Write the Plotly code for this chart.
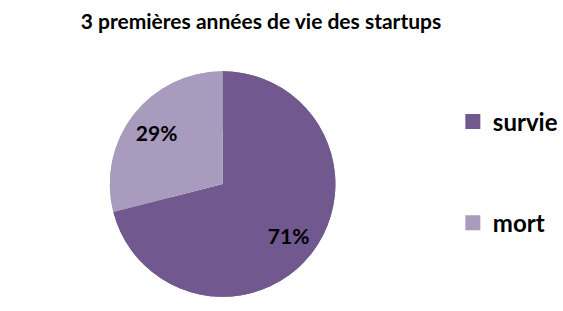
import plotly.graph_objects as go

title = "3 premières années de vie des startups"
labels = ["survie", "mort"]
values = [71, 29]
colors = ["#71598F", "#A89BBE"]

FONT = "Lato"
DOMAIN = dict(x=[111/563, 339/563], y=[13/311, 241/311])

fig = go.Figure()
# full disc (no text)
fig.add_trace(go.Pie(
    labels=labels, values=values, sort=False, direction="clockwise", rotation=0,
    marker=dict(colors=colors, line=dict(width=0)),
    textinfo="none", domain=DOMAIN, showlegend=False, hoverinfo="label+percent",
))
# ring on top carrying the percentage labels
fig.add_trace(go.Pie(
    labels=labels, values=values, sort=False, direction="clockwise", rotation=0,
    hole=0.48,
    marker=dict(colors=colors, line=dict(width=0)),
    textinfo="percent", textposition="inside", insidetextorientation="horizontal",
    textfont=dict(family=FONT, size=21, color="black", weight="bold"),
    domain=DOMAIN, showlegend=False, hoverinfo="label+percent",
))
for lab, col in zip(labels, colors):
    fig.add_trace(go.Scatter(
        x=[None], y=[None], mode="markers", name=lab, legendgroup=lab,
        marker=dict(symbol="square", size=15, color=col), showlegend=True,
    ))

fig.update_layout(
    width=563, height=311,
    margin=dict(l=0, r=0, t=0, b=0),
    paper_bgcolor="white", plot_bgcolor="white",
    title=dict(text=title, x=0.4636, xanchor="center", y=0.93, yanchor="middle",
               font=dict(family=FONT, size=21, color="black", weight="bold")),
    xaxis=dict(visible=False), yaxis=dict(visible=False),
    legend=dict(x=0.813, xanchor="left", y=0.68, yanchor="top",
                font=dict(family=FONT, size=24, color="black", weight="bold"),
                tracegroupgap=67, itemwidth=30, bgcolor="rgba(0,0,0,0)"),
)
fig.write_html("out.html", config={"displayModeBar": False},
               post_script="document.body.style.margin='0';")
